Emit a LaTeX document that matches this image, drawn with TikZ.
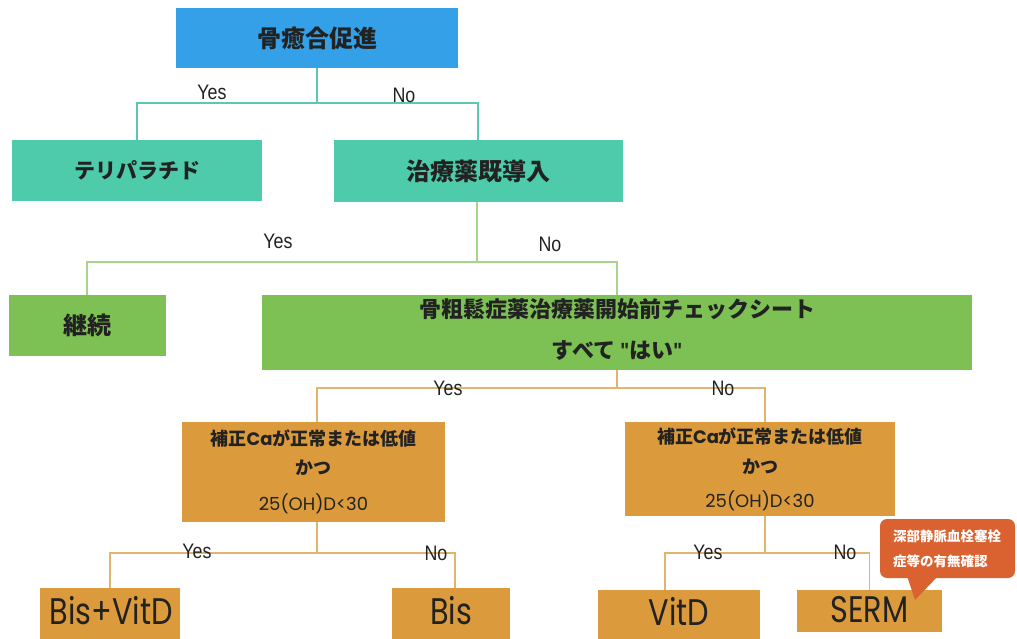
\documentclass[tikz,border=0pt]{standalone}
\usepackage{fontspec}
\setmainfont{Liberation Sans}
\newfontfamily\jp{Noto Sans CJK JP}
\newfontfamily\geo{Poppins}
\newfontfamily\geon{Poppins}[FakeStretch=0.82]
\newfontfamily\yn{Liberation Sans}[FakeStretch=0.85]
\definecolor{cblue}{HTML}{33A0E8}
\definecolor{cteal}{HTML}{4ECBAA}
\definecolor{cgreen}{HTML}{7DC054}
\definecolor{corange}{HTML}{DB9A3C}
\definecolor{ccall}{HTML}{D96230}
\definecolor{lteal}{HTML}{5DC8B0}
\definecolor{lgreen}{HTML}{A6D58A}
\definecolor{ltan}{HTML}{E2B56E}
\definecolor{ctext}{HTML}{222222}
\tikzset{
  box/.style={draw=none, inner sep=0pt, align=center, text=ctext},
  yn/.style={font=\yn\fontsize{21}{24}\selectfont, text=ctext, inner sep=0pt},
  lbl/.style={text=ctext, inner sep=0pt},
  big/.style={text=ctext, inner sep=0pt, font=\geon\fontsize{37}{40}\selectfont},
  conn/.style={line width=1.3pt},
}
\begin{document}
\begin{tikzpicture}[x=1pt,y=-1pt]
\useasboundingbox (0,0) rectangle (1017,639);
\fill[white] (0,0) rectangle (1017,639);

% level 1
\node[box, fill=cblue, minimum width=282pt, minimum height=60pt, font=\jp\bfseries\fontsize{24}{28}\selectfont] (top) at (317,38) {骨癒合促進};
\node[box, fill=cteal, minimum width=250pt, minimum height=61pt, font=\jp\bfseries\fontsize{21}{26}\selectfont] (teri) at (137,170.5) {テリパラチド};
\node[box, fill=cteal, minimum width=289pt, minimum height=62pt, font=\jp\bfseries\fontsize{24}{28}\selectfont] (chiryo) at (478,171) {治療薬既導入};
\coordinate (j1) at (317,103);
\draw[conn, lteal] (top.south) -- (j1) -| (teri.north);
\draw[conn, lteal] (j1) -| (chiryo.north);
\node[yn] (y1) at (212,92) {Yes};
\node[yn] (n1) at (404,95) {No};

% level 2
\node[box, fill=cgreen, minimum width=157pt, minimum height=61pt, font=\jp\bfseries\fontsize{24}{28}\selectfont] (keizoku) at (87,325.5) {継続};
\node[box, fill=cgreen, minimum width=710pt, minimum height=75pt] (check) at (617,332.5) {};
\node[lbl, font=\jp\bfseries\fontsize{22}{26}\selectfont] (checkA) at (617,309) {骨粗鬆症薬治療薬開始前チェックシート};
\node[lbl, font=\jp\bfseries\fontsize{22}{26}\selectfont] (checkB) at (617,350) {すべて {\yn\bfseries "}はい{\yn\bfseries "}};
\coordinate (j2) at (477,262);
\draw[conn, lgreen] (chiryo.south -| j2) -- (j2) -| (keizoku.north);
\draw[conn, lgreen] (j2) -| (check.north);
\node[yn] (y2) at (278,241) {Yes};
\node[yn] (n2) at (550,244) {No};

% level 3
\node[box, fill=corange, minimum width=263pt, minimum height=100pt] (oL) at (313.5,472) {};
\node[lbl, font=\jp\bfseries\fontsize{18}{22}\selectfont] (oLa) at (313.5,438) {補正{\geo\bfseries Ca}が正常または低値};
\node[lbl, font=\jp\bfseries\fontsize{18}{22}\selectfont] (oLb) at (313.5,468) {かつ};
\node[lbl, font=\geo\fontsize{18}{20}\selectfont] (oLc) at (313.5,504) {25(OH)D<30};
\node[box, fill=corange, minimum width=270pt, minimum height=94pt] (oR) at (760,469) {};
\node[lbl, font=\jp\bfseries\fontsize{18}{22}\selectfont] (oRa) at (760,436) {補正{\geo\bfseries Ca}が正常または低値};
\node[lbl, font=\jp\bfseries\fontsize{18}{22}\selectfont] (oRb) at (760,467) {かつ};
\node[lbl, font=\geo\fontsize{18}{20}\selectfont] (oRc) at (760,501) {25(OH)D<30};
\coordinate (j3) at (617,388);
\draw[conn, ltan] (check.south) -- (j3) -| ([xshift=3.5pt]oL.north);
\draw[conn, ltan] (j3) -| ([xshift=5pt]oR.north);
\node[yn] (y3) at (448,388) {Yes};
\node[yn] (n3) at (723,388) {No};

% level 4
\node[box, fill=corange, minimum width=140pt, minimum height=51pt] (bisvitd) at (110,613.5) {};
\node[box, fill=corange, minimum width=118pt, minimum height=51pt] (bis) at (451,613.5) {};
\node[box, fill=corange, minimum width=162pt, minimum height=49pt] (vitd) at (679,614.5) {};
\node[box, fill=corange, minimum width=145pt, minimum height=42pt] (serm) at (869.5,611) {};
\node[big] (tbisvitd) at (111,611) {Bis+VitD};
\node[big] (tbis) at (451,611) {Bis};
\node[big] (tvitd) at (679,611) {VitD};
\node[big] (tserm) at (869.5,610) {SERM};
\coordinate (j4) at (317,553);
\coordinate (j5) at (765,553);
\draw[conn, ltan] ([xshift=3.5pt]oL.south) -- (j4) -| (bisvitd.north);
\draw[conn, ltan] (j4) -| ([xshift=4pt]bis.north);
\draw[conn, ltan] ([xshift=5pt]oR.south) -- (j5) -| ([xshift=-14pt]vitd.north);
\draw[conn, ltan] (j5) -| (serm.north);
\node[yn] (y4) at (197,551) {Yes};
\node[yn] (n4) at (436,553) {No};
\node[yn] (y5) at (708,552) {Yes};
\node[yn] (n5) at (845,552) {No};

% callout
\node[fill=ccall, rounded corners=7pt, minimum width=135pt, minimum height=59pt, inner sep=0pt] (callout) at (947.5,548.5) {};
\fill[ccall] (907,576) -- (915,600) -- (938,576) -- cycle;
\node[font=\jp\bfseries\fontsize{13.5}{25}\selectfont, text=white, align=left, inner sep=0pt, anchor=north west] (calltext) at (893,530) {深部静脈血栓塞栓\\症等の有無確認};
\end{tikzpicture}
\end{document}
